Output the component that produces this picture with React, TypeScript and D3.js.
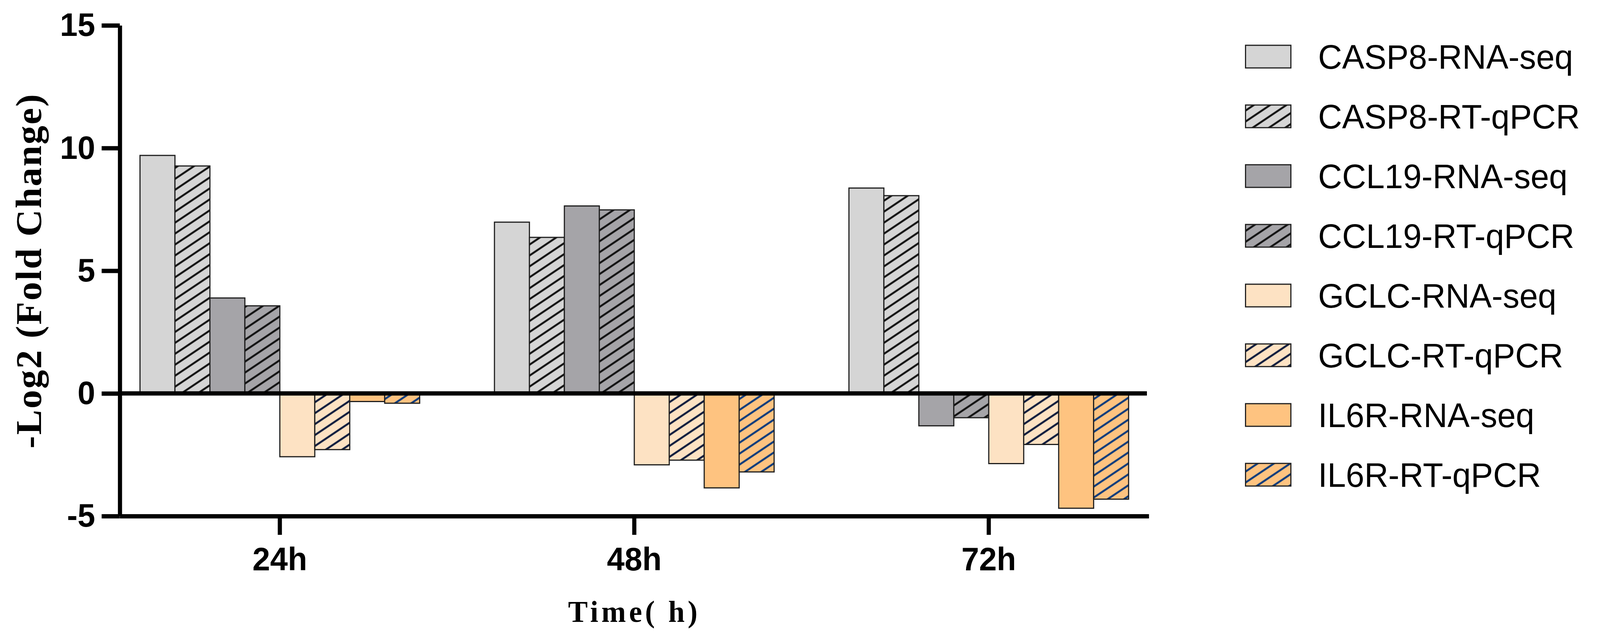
import React, { useEffect, useMemo, useRef } from "react";
import * as d3 from "d3";

const WIDTH = 4234;
const HEIGHT = 1624;
const PLOT = { left: 317, right: 3040, top: 65, bottom: 1322 };

const groups = ["24h", "48h", "72h"];
const seriesNames = [
  "CASP8-RNA-seq",
  "CASP8-RT-qPCR",
  "CCL19-RNA-seq",
  "CCL19-RT-qPCR",
  "GCLC-RNA-seq",
  "GCLC-RT-qPCR",
  "IL6R-RNA-seq",
  "IL6R-RT-qPCR",
];

// values per series, one per time point (24h, 48h, 72h)
const casp8Rna = [9.7, 6.98, 8.37];
const casp8Pcr = [9.27, 6.36, 8.06];
const ccl19Rna = [3.89, 7.64, -1.32];
const ccl19Pcr = [3.57, 7.48, -0.99];
const gclcRna = [-2.58, -2.91, -2.86];
const gclcPcr = [-2.29, -2.72, -2.08];
const il6rRna = [-0.33, -3.85, -4.68];
const il6rPcr = [-0.4, -3.2, -4.31];

const yTicks = [-5, 0, 5, 10, 15];

const seriesValues = [casp8Rna, casp8Pcr, ccl19Rna, ccl19Pcr, gclcRna, gclcPcr, il6rRna, il6rPcr];
const fills = ["#d5d5d5", "#d5d5d5", "#a5a4a8", "#a5a4a8", "#fde2c3", "#fde2c3", "#fec380", "#fec380"];
const hatchColors = [null, "#111111", null, "#111111", null, "#0b1a3c", null, "#0a3a7c"];

const SANS = "'Liberation Sans', Arial, Helvetica, sans-serif";
const SERIF = "'Liberation Serif', 'Times New Roman', serif";

const barFill = (i: number) => (hatchColors[i] ? `url(#hatch-${i})` : fills[i]);

export default function App() {
  const yAxisRef = useRef(null);
  const xAxisRef = useRef(null);

  const yScale = useMemo(
    () => d3.scaleLinear().domain([-5, 15]).range([PLOT.bottom, PLOT.top]),
    []
  );
  const xScale = useMemo(
    () =>
      d3
        .scaleBand()
        .domain(groups)
        .range([PLOT.left, PLOT.right])
        .paddingInner(0.211)
        .paddingOuter(0.057),
    []
  );
  const innerScale = useMemo(
    () =>
      d3
        .scaleBand()
        .domain(seriesNames)
        .range([0, xScale.bandwidth()])
        .padding(0),
    [xScale]
  );

  useEffect(() => {
    const yg = d3.select(yAxisRef.current);
    yg.selectAll("*").remove();
    yg.call(
      d3
        .axisLeft(yScale)
        .tickValues(yTicks)
        .tickSize(48)
        .tickSizeOuter(0)
        .tickPadding(17)
        .tickFormat((d) => String(d))
    );
    yg.selectAll("path, line").attr("stroke", "#000").attr("stroke-width", 11);
    yg.selectAll("text")
      .attr("font-family", SANS)
      .attr("font-weight", "bold")
      .attr("font-size", 84)
      .attr("fill", "#000");

    const xg = d3.select(xAxisRef.current);
    xg.selectAll("*").remove();
    xg.call(d3.axisBottom(xScale).tickSize(48).tickSizeOuter(0).tickPadding(31));
    xg.selectAll("path, line").attr("stroke", "#000").attr("stroke-width", 11);
    xg.selectAll("text")
      .attr("font-family", SANS)
      .attr("font-weight", "bold")
      .attr("font-size", 84)
      .attr("fill", "#000");
  }, [xScale, yScale]);

  const legendX = 3296;
  const legendY0 = 145;
  const legendStep = 153;

  return (
    <svg
      viewBox={`0 0 ${WIDTH} ${HEIGHT}`}
      preserveAspectRatio="none"
      style={{
        position: "fixed",
        left: 0,
        top: 0,
        width: "100vw",
        height: "100vh",
        background: "#fff",
      }}
    >
      <defs>
        {hatchColors.map((c, i) =>
          c ? (
            <pattern
              key={i}
              id={`hatch-${i}`}
              patternUnits="userSpaceOnUse"
              width={20}
              height={23.5}
              patternTransform="rotate(-33)"
            >
              <rect width={20} height={23.5} fill={fills[i]} />
              <line x1={0} x2={20} y1={11.75} y2={11.75} stroke={c} strokeWidth={5} />
            </pattern>
          ) : null
        )}
      </defs>
      <rect width={WIDTH} height={HEIGHT} fill="#fff" />

      {/* bars */}
      {groups.map((g, gi) => (
        <g key={g} transform={`translate(${xScale(g)},0)`}>
          {seriesNames.map((s, si) => {
            const v = seriesValues[si][gi];
            const y0 = yScale(0);
            const y1 = yScale(v);
            return (
              <rect
                key={s}
                x={innerScale(s)}
                y={Math.min(y0, y1)}
                width={innerScale.bandwidth()}
                height={Math.abs(y1 - y0)}
                fill={barFill(si)}
                stroke="#1e1e1e"
                strokeWidth={3}
              />
            );
          })}
        </g>
      ))}

      {/* zero line */}
      <line
        x1={PLOT.left}
        x2={PLOT.right - 5}
        y1={yScale(0)}
        y2={yScale(0)}
        stroke="#000"
        strokeWidth={11}
      />

      <g ref={yAxisRef} transform={`translate(${PLOT.left},0)`} />
      <g ref={xAxisRef} transform={`translate(0,${PLOT.bottom})`} />

      {/* axis titles */}
      <text
        transform={`translate(109,${(PLOT.top + PLOT.bottom) / 2}) rotate(-90)`}
        textAnchor="middle"
        fontFamily={SERIF}
        fontWeight="bold"
        fontSize={96}
        letterSpacing={3}
        fill="#000"
      >
        -Log2 (Fold Change)
      </text>
      <text
        x={(PLOT.left + PLOT.right) / 2}
        y={1593}
        textAnchor="middle"
        fontFamily={SERIF}
        fontWeight="bold"
        fontSize={78}
        letterSpacing={8}
        fill="#000"
      >
        Time( h)
      </text>

      {/* legend */}
      {seriesNames.map((s, i) => {
        const cy = legendY0 + i * legendStep;
        return (
          <g key={s}>
            <rect
              x={legendX}
              y={cy - 29}
              width={120}
              height={58}
              fill={barFill(i)}
              stroke="#1e1e1e"
              strokeWidth={3}
            />
            <text x={3488} y={cy + 31} fontFamily={SANS} fontSize={88} fill="#000">
              {s}
            </text>
          </g>
        );
      })}
    </svg>
  );
}
